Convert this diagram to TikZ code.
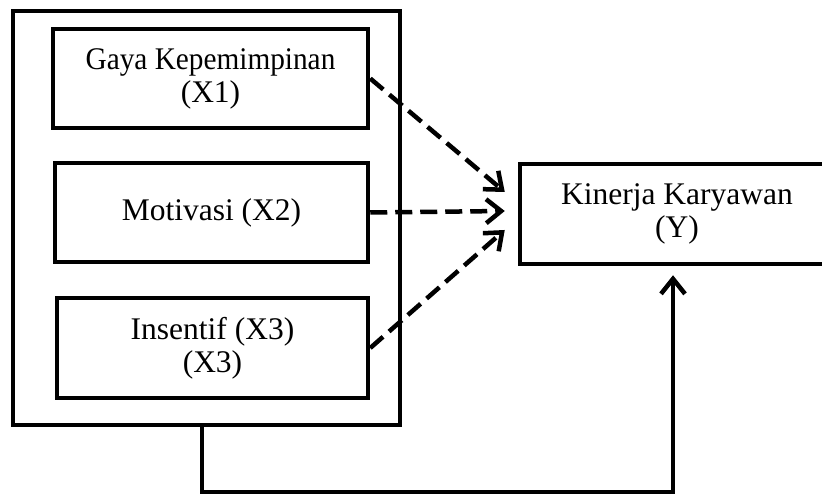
\documentclass[tikz,border=0pt]{standalone}
\usepackage{fontspec}
\setmainfont{Liberation Serif}
\usetikzlibrary{arrows.meta}
\begin{document}
\begin{tikzpicture}[x=1pt, y=1pt]
      \tikzstyle{var}=[draw, line width=4.5pt, shape=rectangle, align=center,
                       font=\fontsize{31.5}{33}\selectfont, inner sep=0pt]
      \tikzstyle{dasharrow}=[line width=4.5pt, dash pattern=on 17pt off 8pt,
                             -{Straight Barb[length=15pt, width=24pt]}]
      \tikzstyle{solidarrow}=[line width=4.5pt,
                              -{Straight Barb[length=15pt, width=24pt]}]
      \useasboundingbox (0, 0) rectangle (822, 495);
      \node[var, minimum width=387pt, minimum height=414pt] (grup) at (206.5, 277) {};
      \node[var, minimum width=315pt, minimum height=99pt] (gaya) at (210.5, 416.5)
        {{\addfontfeature{FakeStretch=0.93}Gaya Kepemimpinan}\\(X1)};
      \node[var, minimum width=313pt, minimum height=99pt] (motivasi) at (211.5, 282.5)
        {Motivasi (X2)};
      \node[var, minimum width=311pt, minimum height=100pt] (insentif) at (212.5, 147)
        {Insentif (X3)\\(X3)};
      \node[var, minimum width=314pt, minimum height=100pt] (kinerja) at (677, 281)
        {Kinerja Karyawan\\(Y)};
      \coordinate (bawahL) at (202, 3);
      \coordinate (bawahR) at (673, 3);

      \foreach \src/\dy in {gaya/22, motivasi/3, insentif/-16} {%
        \draw[dasharrow] (\src.east) -- ([xshift=-13pt, yshift=\dy pt]kinerja.west);
      }
      \draw[solidarrow] (grup.south -| bawahL) -- (bawahL) -- (bawahR)
        -- ([yshift=-9pt]kinerja.south -| bawahR);
    \end{tikzpicture}
\end{document}
